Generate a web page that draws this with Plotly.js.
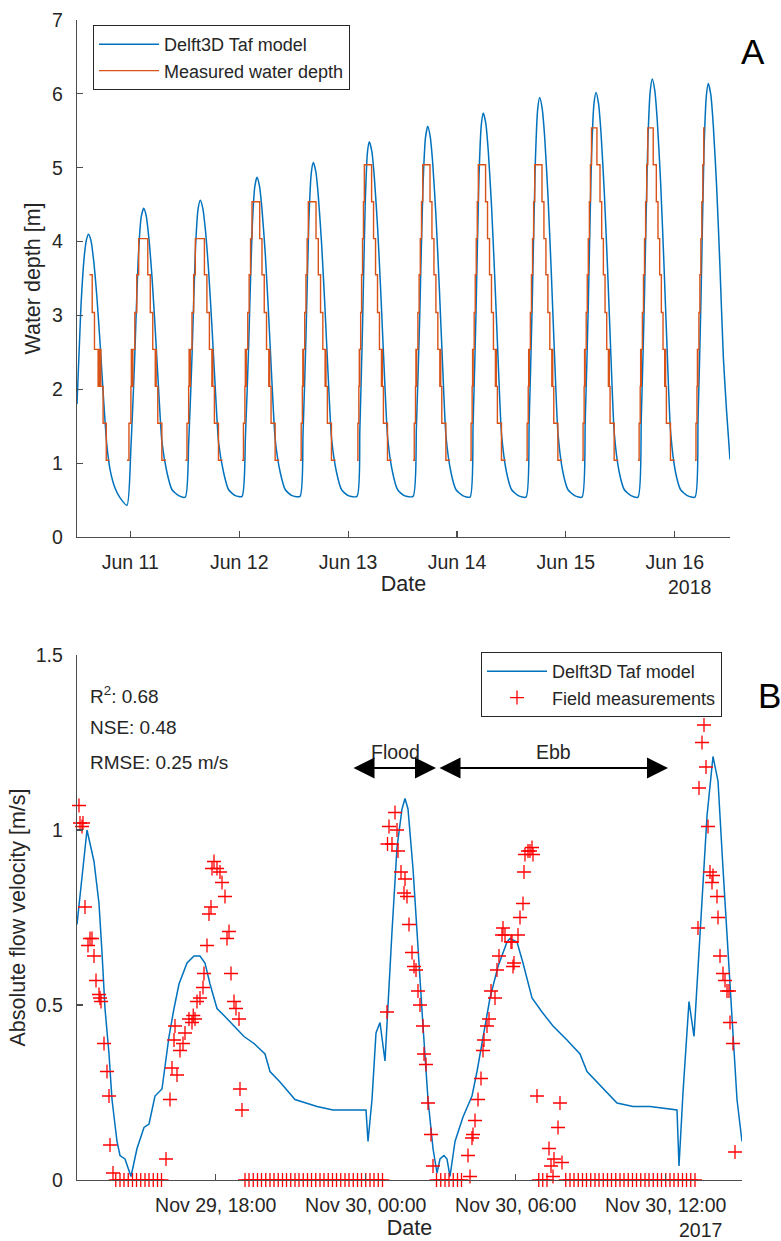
<!DOCTYPE html>
<html>
<head>
<meta charset="utf-8">
<script src="https://cdn.plot.ly/plotly-3.0.1.min.js"></script>
<style>html,body{margin:0;padding:0;background:#fff;}#chart{width:781px;height:1241px;}</style>
</head>
<body>
<div id="chart"></div>
<script>
// ---------- Panel A: water depth (hours since 2018-06-10 00:00) ----------
const modelHoursA = [12.25,13.1,13.85,14.35,14.79, 15.34,15.89,16.62,17.35,18.10,18.82,19.55,20.65,21.75,23.27,
 24.12,24.93,25.74,26.40,26.95, 27.50,28.05,28.78,29.51,30.26,30.98,32.09,33.19,34.66,36.12,
 36.88,37.61,38.34,38.93,39.43, 39.98,40.53,41.26,41.99,42.74,43.46,44.57,45.67,47.14,48.62,
 49.38,50.10,50.83,51.43,51.92, 52.47,53.02,53.75,54.48,55.23,55.95,57.06,58.16,59.63,61.40,
 62.07,62.72,63.36,63.89,64.33, 64.88,65.43,66.16,66.89,67.64,68.36,69.47,70.57,72.04,73.96,
 74.59,75.18,75.78,76.27,76.68, 77.23,77.78,78.51,79.24,79.99,80.71,81.82,82.92,84.39,86.31,
 87.06,87.77,88.48,89.06,89.55, 90.10,90.65,91.38,92.11,92.86,93.58,94.69,95.79,97.26,98.88,
 99.55,100.19,100.84,101.36,101.80, 102.35,102.90,103.63,104.36,105.11,105.83,106.94,108.04,109.51,111.22,
 111.91,112.57,113.24,113.78,114.23, 114.78,115.33,116.06,116.79,117.54,118.26,119.37,120.47,121.94,123.56,
 124.27,124.95,125.62,126.18,126.64, 127.19,127.74,128.47,129.20,129.95,130.67,131.78,132.88,134.35,135.90,
 136.62,137.32,138.01,138.58,139.05, 139.60,140.15,140.88,141.61,142.36,143.08,144.19,145.29,146.76,148.46,
 149.13,149.78,150.42,150.95,151.39, 151.94,152.49,153.22,153.95,154.70,155.42,156.17];
const modelDepthA = [1.80,3.10,3.80,4.03,4.10, 4.01,3.76,3.26,2.61,1.87,1.25,0.91,0.66,0.53,0.43,
 1.19,2.36,3.77,4.33,4.45, 4.35,4.07,3.52,2.79,1.97,1.28,0.87,0.64,0.56,0.54,
 1.30,2.47,3.88,4.44,4.56, 4.45,4.17,3.60,2.85,2.00,1.28,0.87,0.64,0.56,0.55,
 1.37,2.62,4.14,4.74,4.87, 4.75,4.44,3.83,3.01,2.08,1.31,0.87,0.64,0.56,0.55,
 1.41,2.72,4.30,4.93,5.07, 4.95,4.62,3.97,3.12,2.14,1.33,0.87,0.64,0.56,0.55,
 1.46,2.85,4.53,5.21,5.35, 5.22,4.87,4.18,3.26,2.22,1.35,0.87,0.64,0.56,0.55,
 1.50,2.95,4.71,5.41,5.56, 5.42,5.06,4.33,3.37,2.28,1.36,0.87,0.64,0.56,0.54,
 1.53,3.04,4.86,5.58,5.74, 5.60,5.22,4.46,3.46,2.33,1.38,0.87,0.64,0.56,0.54,
 1.57,3.14,5.03,5.79,5.95, 5.80,5.41,4.61,3.57,2.39,1.40,0.87,0.64,0.56,0.54,
 1.58,3.17,5.09,5.86,6.02, 5.87,5.47,4.66,3.61,2.41,1.40,0.87,0.64,0.56,0.54,
 1.62,3.26,5.24,6.03,6.20, 6.04,5.63,4.80,3.70,2.46,1.42,0.87,0.64,0.56,0.54,
 1.60,3.23,5.19,5.97,6.14, 5.99,5.57,4.75,3.67,2.44,1.70,1.05];

const measHoursA = [15.0,15.6,16.1,16.9,17.05,17.2,17.35,17.5,18.0,18.7,19.4,null,
 23.27,23.70,24.13,24.23,24.33,24.56,24.99,25.42,25.85,27.85,28.40,28.95,29.50,29.60,29.70,30.05,30.95,31.85,null,
 36.12,36.49,36.86,36.96,37.06,37.23,37.59,37.96,38.33,40.33,40.88,41.43,41.98,42.08,42.18,42.53,43.43,44.33,null,
 48.62,48.93,49.25,49.35,49.45,49.56,49.88,50.19,50.50,50.82,52.52,53.02,53.52,54.02,54.52,54.62,54.72,55.02,55.92,56.82,null,
 61.40,61.66,61.92,62.02,62.12,62.18,62.44,62.71,62.97,63.23,64.93,65.43,65.93,66.43,66.93,67.03,67.13,67.43,68.33,69.23,null,
 73.96,74.16,74.37,74.47,74.52,74.57,74.77,74.97,75.18,75.38,75.58,77.18,77.61,78.05,78.48,78.91,79.35,79.45,79.55,79.78,80.68,81.58,null,
 86.31,86.58,86.85,86.95,87.05,87.11,87.38,87.65,87.91,88.18,88.45,90.05,90.48,90.92,91.35,91.78,92.22,92.32,92.42,92.65,93.55,94.45,null,
 98.88,99.11,99.34,99.44,99.50,99.56,99.79,100.02,100.24,100.47,100.70,102.30,102.73,103.17,103.60,104.03,104.47,104.57,104.67,104.90,105.80,106.70,null,
 111.22,111.46,111.70,111.80,111.87,111.94,112.17,112.41,112.65,112.89,113.13,114.73,115.16,115.60,116.03,116.46,116.90,117.00,117.10,117.33,118.23,119.13,null,
 123.56,123.79,124.02,124.12,124.19,124.25,124.48,124.71,124.94,125.18,125.41,125.64,126.84,127.52,127.89,128.26,128.63,129.00,129.37,129.47,129.57,129.74,130.64,131.54,null,
 135.90,136.14,136.38,136.48,136.55,136.62,136.86,137.10,137.33,137.57,137.81,138.05,139.25,139.93,140.30,140.67,141.04,141.41,141.78,141.88,141.98,142.15,143.05,143.95,null,
 148.46,148.67,148.89,148.99,149.05,149.10,149.32,149.53,149.75,149.96,150.18,150.39,150.66];
const measDepthA = [3.55,3.04,2.54,2.04,2.54,2.04,2.54,2.04,1.54,1.04,1.04,null,
 1.04,1.54,2.04,2.54,2.04,2.54,3.04,3.55,4.04,3.55,3.04,2.54,2.04,2.54,2.04,1.54,1.04,1.04,null,
 1.04,1.54,2.04,2.54,2.04,2.54,3.04,3.55,4.04,3.55,3.04,2.54,2.04,2.54,2.04,1.54,1.04,1.04,null,
 1.04,1.54,2.04,2.54,2.04,2.54,3.04,3.55,4.04,4.54,4.04,3.55,3.04,2.54,2.04,2.54,2.04,1.54,1.04,1.04,null,
 1.04,1.54,2.04,2.54,2.04,2.54,3.04,3.55,4.04,4.54,4.04,3.55,3.04,2.54,2.04,2.54,2.04,1.54,1.04,1.04,null,
 1.04,1.54,2.04,2.54,2.04,2.54,3.04,3.55,4.04,4.54,5.04,4.54,4.04,3.55,3.04,2.54,2.04,2.54,2.04,1.54,1.04,1.04,null,
 1.04,1.54,2.04,2.54,2.04,2.54,3.04,3.55,4.04,4.54,5.04,4.54,4.04,3.55,3.04,2.54,2.04,2.54,2.04,1.54,1.04,1.04,null,
 1.04,1.54,2.04,2.54,2.04,2.54,3.04,3.55,4.04,4.54,5.04,4.54,4.04,3.55,3.04,2.54,2.04,2.54,2.04,1.54,1.04,1.04,null,
 1.04,1.54,2.04,2.54,2.04,2.54,3.04,3.55,4.04,4.54,5.04,4.54,4.04,3.55,3.04,2.54,2.04,2.54,2.04,1.54,1.04,1.04,null,
 1.04,1.54,2.04,2.54,2.04,2.54,3.04,3.55,4.04,4.54,5.04,5.54,5.04,4.54,4.04,3.55,3.04,2.54,2.04,2.54,2.04,1.54,1.04,1.04,null,
 1.04,1.54,2.04,2.54,2.04,2.54,3.04,3.55,4.04,4.54,5.04,5.54,5.04,4.54,4.04,3.55,3.04,2.54,2.04,2.54,2.04,1.54,1.04,1.04,null,
 1.04,1.54,2.04,2.54,2.04,2.54,3.04,3.55,4.04,4.54,5.04,5.54,5.54];

const tickDatesA = ['2018-06-11','2018-06-12','2018-06-13','2018-06-14','2018-06-15','2018-06-16'];
const tickTextA = ['Jun 11','Jun 12','Jun 13','Jun 14','Jun 15','Jun 16'];

// ---------- Panel B: flow velocity (hours since 2017-11-29 00:00) ----------
const modelHoursB = [12.45,12.85,13.13,13.33,13.45,13.57,13.73,13.85,14.05,14.17,14.37,14.61,14.85,15.13,15.33,15.57,15.85,15.97,16.13,16.33,
 16.53,16.85,17.13,17.37,17.57,17.77,18.05,18.33,18.73,19.13,19.53,19.97,20.17,20.57,21.17,22.05,22.69,23.37,24.01,24.09,
 24.25,24.41,24.57,24.77,24.89,25.05,25.25,25.45,25.57,25.69,25.89,26.09,26.29,26.49,26.69,26.85,26.97,27.13,27.25,27.37,
 27.57,27.89,28.25,28.45,28.69,28.97,29.29,29.65,29.77,30.05,30.29,30.65,31.05,31.49,32.05,32.57,32.85,33.37,34.05,34.69,
 35.37,36.45,36.53,36.69,36.93,37.13,37.37,37.65,37.89,38.09,38.29,38.57,38.85,39.05];
const modelVelB = [0.73,1.00,0.91,0.79,0.65,0.49,0.36,0.23,0.11,0.07,0.06,0.01,0.09,0.15,0.16,0.24,0.26,0.32,0.41,0.49,
 0.56,0.62,0.64,0.64,0.62,0.56,0.49,0.47,0.44,0.41,0.39,0.36,0.31,0.28,0.23,0.21,0.20,0.20,0.20,0.11,
 0.23,0.42,0.45,0.34,0.51,0.71,0.95,1.06,1.09,1.06,0.89,0.65,0.44,0.23,0.09,0.02,0.06,0.07,0.06,0.01,
 0.11,0.18,0.24,0.31,0.41,0.52,0.61,0.68,0.69,0.68,0.62,0.52,0.48,0.44,0.40,0.36,0.31,0.27,0.22,0.21,
 0.21,0.20,0.04,0.25,0.51,0.41,0.71,1.04,1.21,1.14,0.89,0.56,0.23,0.11];

const fieldHoursB = [12.53,12.57,12.69,12.65,12.77,12.97,12.89,13.05,13.13,13.21,13.33,13.41,13.37,13.53,13.65,13.73,13.77,13.89,
 14.0,14.17,14.33,14.5,14.67,14.83,15.0,15.17,15.33,15.5,15.67,15.83,
 16.01,16.17,16.25,16.45,16.33,16.37,16.57,16.69,16.77,16.93,17.05,17.17,17.1,17.25,17.37,17.49,17.53,17.65,17.73,17.81,17.93,17.85,
 18.05,18.17,18.25,18.37,18.53,18.45,18.61,18.73,18.81,18.93,18.97,19.05,
 19.17,19.33,19.5,19.67,19.83,20.0,20.17,20.33,20.5,20.67,20.83,21.0,21.17,21.33,21.5,21.67,21.83,22.0,22.17,22.33,22.5,22.67,22.83,
 23.0,23.17,23.33,23.5,23.67,23.83,24.0,24.17,24.33,24.5,24.67,
 24.85,25.17,24.93,25.25,24.87,25.05,25.29,25.41,25.57,25.53,25.65,25.73,25.85,25.93,26.01,26.09,26.17,26.29,26.33,26.41,26.49,26.61,26.69,
 26.83,27.0,27.17,27.33,27.5,27.67,27.83,
 28.09,28.17,28.25,28.29,28.37,28.49,28.61,28.69,28.73,28.85,28.93,29.01,29.17,29.25,29.33,29.45,29.49,29.57,29.81,29.85,29.89,29.93,
 30.09,30.17,30.29,30.33,30.37,30.49,30.65,30.69,30.57,
 30.85,31.77,31.69,31.33,31.53,31.85,31.41,31.49,
 30.92,31.08,31.25,
 32.0,32.17,32.33,32.5,32.67,32.83,33.0,33.17,33.33,33.5,33.67,33.83,34.0,34.17,34.33,34.5,34.67,34.83,35.0,35.17,35.33,35.5,35.67,35.83,
 36.0,36.17,36.33,36.5,36.67,36.83,37.0,37.17,
 37.29,37.33,37.45,37.53,37.61,37.69,37.77,37.85,37.89,38.05,38.09,38.17,38.29,38.37,38.45,38.53,38.57,38.69,38.77];
const fieldVelB = [1.07,1.02,1.02,1.01,0.78,0.69,0.67,0.69,0.64,0.57,0.53,0.51,0.52,0.39,0.31,0.24,0.10,0.02,
 0,0,0,0,0,0,0,0,0,0,0,0,
 0.06,0.23,0.32,0.30,0.40,0.44,0.37,0.39,0.42,0.46,0.45,0.46,0.47,0.51,0.52,0.55,0.59,0.67,0.76,0.78,0.91,0.89,
 0.89,0.88,0.85,0.81,0.71,0.69,0.59,0.51,0.49,0.46,0.26,0.20,
 0,0,0,0,0,0,0,0,0,0,0,0,0,0,0,0,0,0,0,0,0,0,0,
 0,0,0,0,0,0,0,0,0,0,0,
 0.48,1.05,1.01,1.00,0.96,0.96,0.94,0.88,0.86,0.82,0.81,0.73,0.65,0.61,0.60,0.54,0.50,0.44,0.36,0.33,0.22,0.13,0.04,
 0,0,0,0,0,0,0,
 0.07,0.01,0.12,0.13,0.17,0.23,0.29,0.37,0.40,0.44,0.46,0.54,0.52,0.60,0.64,0.70,0.72,0.70,0.68,0.68,0.61,0.62,
 0.70,0.75,0.79,0.88,0.93,0.94,0.95,0.93,0.94,
 0.24,0.22,0.15,0.09,0.06,0.05,0.04,0.01,
 0,0,0,
 0,0,0,0,0,0,0,0,0,0,0,0,0,0,0,0,0,0,0,0,0,0,0,0,
 0,0,0,0,0,0,0,0,
 0.72,1.12,1.25,1.30,1.18,1.01,0.88,0.85,0.87,0.81,0.75,0.64,0.59,0.57,0.54,0.54,0.45,0.39,0.08];

const tickDatesB = ['2017-11-29 18:00','2017-11-30 00:00','2017-11-30 06:00','2017-11-30 12:00'];
const tickTextB = ['Nov 29, 18:00','Nov 30, 00:00','Nov 30, 06:00','Nov 30, 12:00'];

// ---------- helpers ----------
const baseA = Date.UTC(2018,5,10);
const baseB = Date.UTC(2017,10,29);
function toDate(base, h){
  if (h === null) return null;
  return new Date(base + Math.round(h*3600000)).toISOString().slice(0,19).replace('T',' ');
}
const hA = a => a.map(h => toDate(baseA,h));
const hB = a => a.map(h => toDate(baseB,h));

const FONT = 'Liberation Sans, Arial, Helvetica, sans-serif';
const INK = '#262626';
const AXC = '#4d4d4d';
const BLUE = '#0072BD', ORANGE = '#D95319';
const W = 781, H = 1241;
const px = x => x / W, py = y => 1 - y / H;

const traces = [
  {x: hA(modelHoursA), y: modelDepthA, type:'scatter', mode:'lines', name:'Delft3D Taf model',
   line:{color:BLUE, width:1.5, shape:'spline', smoothing:0.6}, xaxis:'x', yaxis:'y', legend:'legend'},
  {x: hA(measHoursA), y: measDepthA, type:'scatter', mode:'lines', name:'Measured water depth',
   line:{color:ORANGE, width:1.4, shape:'hv'}, connectgaps:false, xaxis:'x', yaxis:'y', legend:'legend'},
  {x: hB(modelHoursB), y: modelVelB, type:'scatter', mode:'lines', name:'Delft3D Taf model',
   line:{color:BLUE, width:1.5}, xaxis:'x2', yaxis:'y2', legend:'legend2'},
  {x: hB(fieldHoursB), y: fieldVelB, type:'scatter', mode:'markers', name:'Field measurements',
   marker:{symbol:'cross-thin', size:10, color:'#ff0000', line:{color:'#ff0000', width:1.3}},
   cliponaxis:false, xaxis:'x2', yaxis:'y2', legend:'legend2'}
];

const axisCommon = {
  showline:true, linecolor:AXC, linewidth:1.3, showgrid:false, zeroline:false,
  ticks:'inside', ticklen:6, tickwidth:1.2, tickcolor:AXC,
  tickfont:{family:FONT, size:19.5, color:INK}, mirror:false
};
const titleFont = {family:FONT, size:21.5, color:INK};

const layout = {
  width:W, height:H, margin:{l:0,r:0,t:0,b:0}, paper_bgcolor:'#fff', plot_bgcolor:'#fff',
  showlegend:true, font:{family:FONT, color:INK},
  xaxis: Object.assign({}, axisCommon, {
    type:'date', domain:[px(77), px(730)], anchor:'y',
    range:[toDate(baseA,12.25), toDate(baseA,156.17)],
    tickmode:'array', tickvals:tickDatesA, ticktext:tickTextA, ticklabelstandoff:7,
    title:{text:'Date', font:titleFont, standoff:4}
  }),
  yaxis: Object.assign({}, axisCommon, {
    domain:[py(537), py(20)], anchor:'x', range:[0,7], tickmode:'array',
    tickvals:[0,1,2,3,4,5,6,7], ticktext:['0','1','2','3','4','5','6','7'], ticklabelstandoff:9,
    title:{text:'Water depth [m]', font:titleFont, standoff:5}
  }),
  xaxis2: Object.assign({}, axisCommon, {
    type:'date', domain:[px(77), px(742)], anchor:'y2',
    range:[toDate(baseB,12.45), toDate(baseB,39.05)],
    tickmode:'array', tickvals:tickDatesB, ticktext:tickTextB, ticklabelstandoff:7,
    title:{text:'Date', font:titleFont, standoff:4}
  }),
  yaxis2: Object.assign({}, axisCommon, {
    domain:[py(1180), py(655)], anchor:'x2', range:[0,1.5], tickmode:'array',
    tickvals:[0,0.5,1,1.5], ticktext:['0','0.5','1','1.5'], ticklabelstandoff:9,
    title:{text:'Absolute flow velocity [m/s]', font:titleFont, standoff:4}
  }),
  legend:{x:px(93), y:py(25), xanchor:'left', yanchor:'top', bgcolor:'#fff', bordercolor:INK, borderwidth:1,
    font:{family:FONT, size:18, color:INK}, tracegroupgap:0, itemwidth:60},
  legend2:{x:px(481), y:py(652), xanchor:'left', yanchor:'top', bgcolor:'#fff', bordercolor:INK, borderwidth:1,
    font:{family:FONT, size:18, color:INK}, tracegroupgap:0, itemwidth:60},
  annotations:[
    {text:'A', xref:'paper', yref:'paper', x:px(753), y:py(52), xanchor:'center', yanchor:'middle', showarrow:false, font:{family:FONT, size:35, color:'#000'}},
    {text:'B', xref:'paper', yref:'paper', x:px(769), y:py(695), xanchor:'center', yanchor:'middle', showarrow:false, font:{family:FONT, size:35, color:'#000'}},
    {text:'2018', xref:'paper', yref:'paper', x:px(689), y:py(587), xanchor:'center', yanchor:'middle', showarrow:false, font:{family:FONT, size:19.5, color:INK}},
    {text:'2017', xref:'paper', yref:'paper', x:px(700), y:py(1230), xanchor:'center', yanchor:'middle', showarrow:false, font:{family:FONT, size:19.5, color:INK}},
    {text:'R<sup>2</sup>: 0.68', xref:'paper', yref:'paper', x:px(88), y:py(695), xanchor:'left', yanchor:'middle', showarrow:false, font:{family:FONT, size:19, color:INK}},
    {text:'NSE: 0.48', xref:'paper', yref:'paper', x:px(88), y:py(727), xanchor:'left', yanchor:'middle', showarrow:false, font:{family:FONT, size:19, color:INK}},
    {text:'RMSE: 0.25 m/s', xref:'paper', yref:'paper', x:px(88), y:py(762), xanchor:'left', yanchor:'middle', showarrow:false, font:{family:FONT, size:19, color:INK}},
    {text:'Flood', xref:'x2', yref:'y2', x:toDate(baseB,25.17), y:1.223, xanchor:'center', yanchor:'middle', showarrow:false, font:{family:FONT, size:19.5, color:INK}},
    {text:'Ebb', xref:'x2', yref:'y2', x:toDate(baseB,31.49), y:1.223, xanchor:'center', yanchor:'middle', showarrow:false, font:{family:FONT, size:19.5, color:INK}},
    {text:'', xref:'x2', yref:'y2', axref:'x2', ayref:'y2', x:toDate(baseB,26.81), y:1.177, ax:toDate(baseB,23.45), ay:1.177,
     showarrow:true, arrowside:'end+start', arrowhead:2, arrowsize:2.1, arrowwidth:2, arrowcolor:'#000', standoff:0, startstandoff:0},
    {text:'', xref:'x2', yref:'y2', axref:'x2', ayref:'y2', x:toDate(baseB,36.09), y:1.177, ax:toDate(baseB,26.89), ay:1.177,
     showarrow:true, arrowside:'end+start', arrowhead:2, arrowsize:2.1, arrowwidth:2, arrowcolor:'#000', standoff:0, startstandoff:0}
  ]
};

Plotly.newPlot('chart', traces, layout, {displayModeBar:false, staticPlot:true});
</script>
</body>
</html>
